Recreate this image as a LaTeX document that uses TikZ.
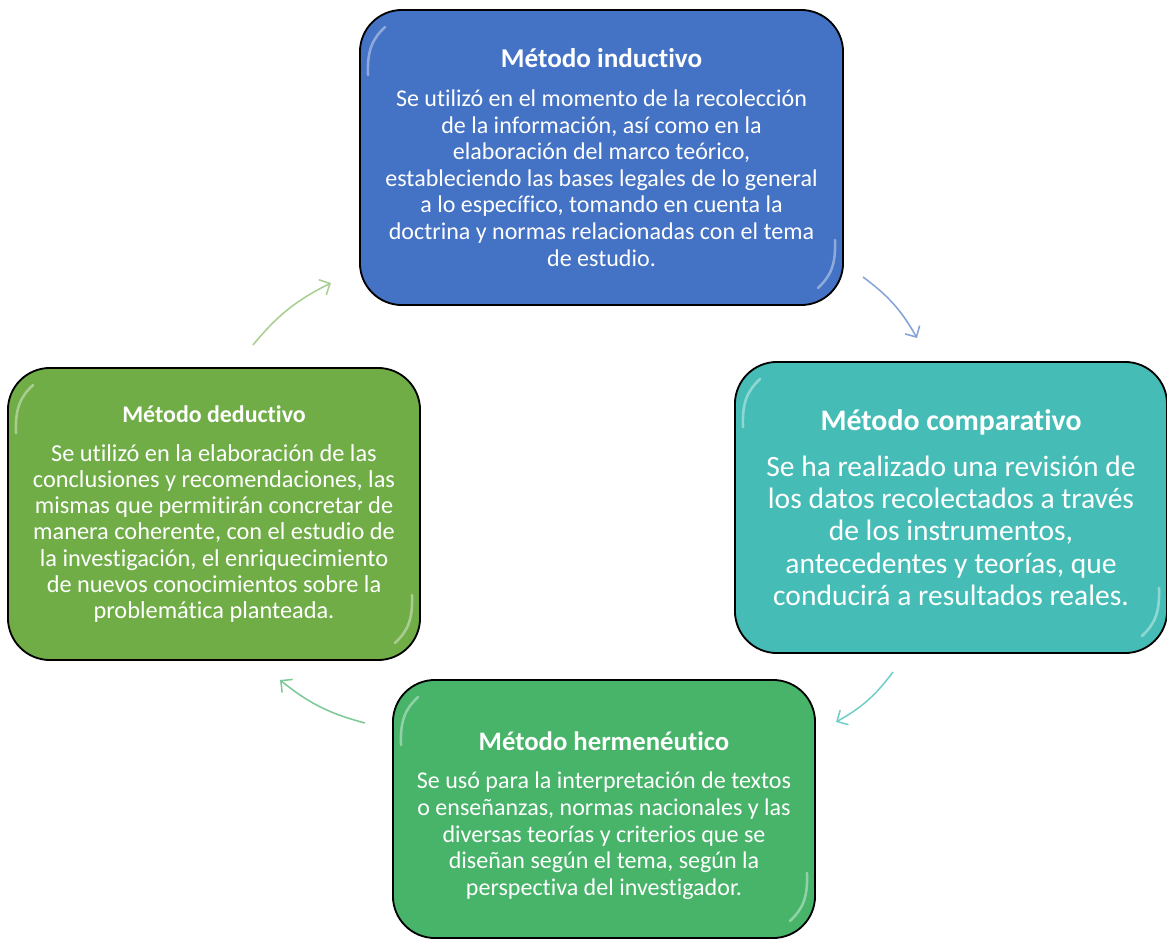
\documentclass[tikz,border=0pt]{standalone}
\usepackage{fontspec}
\setmainfont{Carlito}[Ligatures=NoCommon]
\usepackage{xcolor}
\usetikzlibrary{arrows.meta}

\definecolor{inducblue}{HTML}{4472C4}
\definecolor{comparteal}{HTML}{45BDB6}
\definecolor{hermgreen}{HTML}{47B46A}
\definecolor{deducgreen}{HTML}{70AD47}

\begin{document}
\begin{tikzpicture}[x=0.025cm,y=-0.025cm,
		metodo/.style={draw=black, line width=1.3pt, rounded corners=1.05cm,
			text=white, align=center, inner sep=0pt},
		shine/.style={white, line width=1.8pt, opacity=0.4, line cap=round},
		flecha/.style={line width=1.1pt, -{Straight Barb[length=6pt,width=12pt]}}]
	\useasboundingbox (0,0) rectangle (1167,940);

	% las cuatro cajas
	\node[metodo, fill=inducblue, minimum width=12.075cm, minimum height=7.375cm,
		font=\fontsize{17.1}{18.9}\selectfont] (induct) at (601.5,157.5)
		{{\fontsize{19.3}{19.3}\selectfont\bfseries Método inductivo}\\[8.8pt]
		Se utilizó en el momento de la recolección\\
		de la información, así como en la\\
		elaboración del marco teórico,\\
		estableciendo las bases legales de lo general\\
		a lo específico, tomando en cuenta la\\
		doctrina y normas relacionadas con el tema\\
		de estudio.};
	\node[metodo, fill=comparteal, minimum width=10.8cm, minimum height=7.275cm,
		font=\fontsize{21}{22.9}\selectfont] (compar) at (951,507.5)
		{{\fontsize{21.2}{21.2}\selectfont\bfseries Método comparativo}\\[9.8pt]
		Se ha realizado una revisión de\\
		los datos recolectados a través\\
		de los instrumentos,\\
		antecedentes y teorías, que\\
		conducirá a resultados reales.};
	\node[metodo, fill=hermgreen, minimum width=10.55cm, minimum height=6.45cm,
		font=\fontsize{17.1}{19}\selectfont] (herme) at (604,809)
		{\rule{0pt}{23pt}{\fontsize{19}{19}\selectfont\bfseries Método hermenéutico}\\[8pt]
		Se usó para la interpretación de textos\\
		o enseñanzas, normas nacionales y las\\
		diversas teorías y criterios que se\\
		diseñan según el tema, según la\\
		perspectiva del investigador.};
	\node[metodo, fill=deducgreen, minimum width=10.3cm, minimum height=7.3cm,
		font=\fontsize{17.3}{18.6}\selectfont] (deduc) at (214,514)
		{{\fontsize{17}{17}\selectfont\bfseries Método deductivo}\\[9.2pt]
		Se utilizó en la elaboración de las\\
		conclusiones y recomendaciones, las\\
		mismas que permitirán concretar de\\
		manera coherente, con el estudio de\\
		la investigación, el enriquecimiento\\
		de nuevos conocimientos sobre la\\
		problemática planteada.};

	% brillos en las esquinas
	\foreach \caja in {induct, compar, herme, deduc}{
		\draw[shine] ([shift={(9,66)}]\caja.north west)
			.. controls ([shift={(8,42)}]\caja.north west) and ([shift={(13,30)}]\caja.north west)
			.. ([shift={(26,18)}]\caja.north west);
		\draw[shine] ([shift={(-9,-66)}]\caja.south east)
			.. controls ([shift={(-8,-42)}]\caja.south east) and ([shift={(-13,-30)}]\caja.south east)
			.. ([shift={(-26,-18)}]\caja.south east);
	}

	% flechas del ciclo
	\coordinate (d1) at (253,345);
	\coordinate (i1) at (331,283);
	\coordinate (i2) at (863,277);
	\coordinate (c1) at (917,338);
	\coordinate (c2) at (893,672);
	\coordinate (h1) at (836,722);
	\coordinate (h2) at (365,723);
	\coordinate (d2) at (280,680);

	\draw[flecha, deducgreen!60!white] (d1) to[bend left=12] (i1);
	\draw[flecha, inducblue!65!white] (i2) to[bend left=12] (c1);
	\draw[flecha, comparteal!75!white] (c2) to[bend left=12] (h1);
	\draw[flecha, hermgreen!70!white] (h2) to[bend left=12] (d2);
\end{tikzpicture}
\end{document}
